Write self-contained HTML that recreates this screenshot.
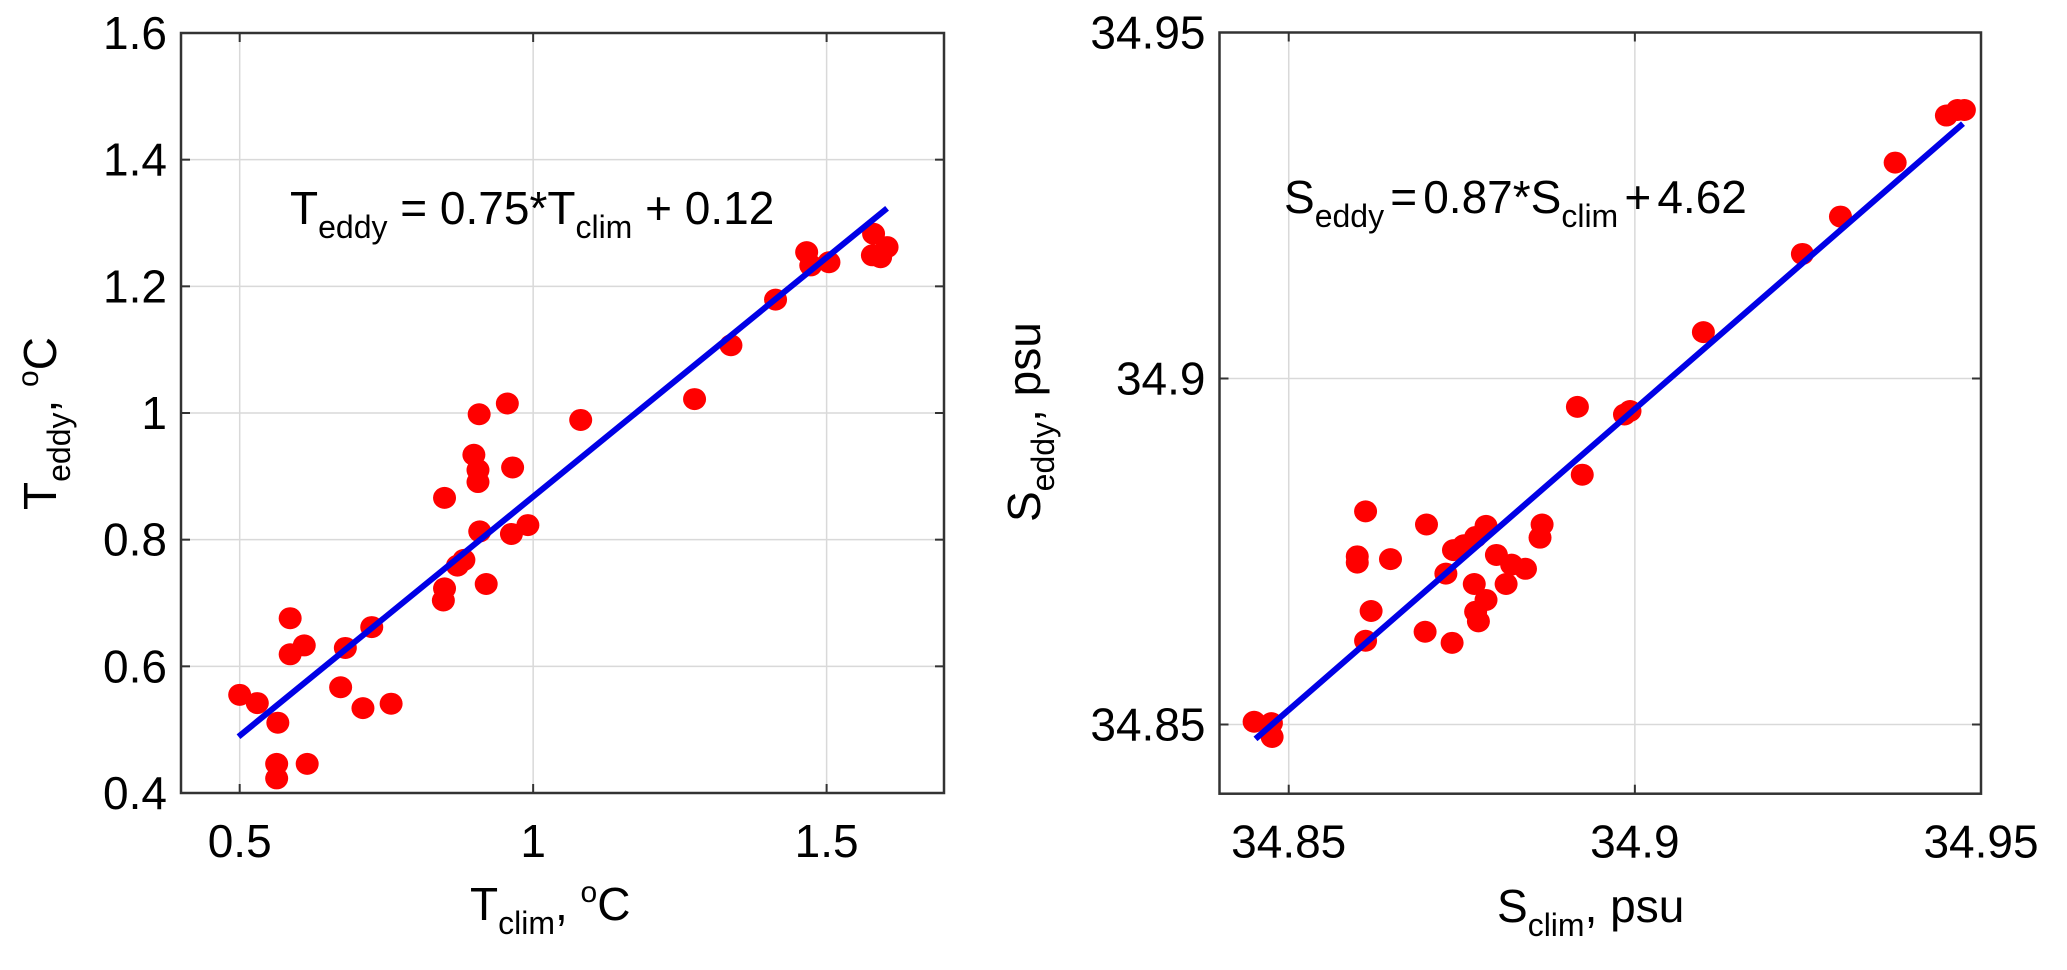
<!DOCTYPE html>
<html><head><meta charset="utf-8"><style>
html,body{margin:0;padding:0;background:#fff;}
svg{display:block;}
text{font-family:"Liberation Sans",Arial,sans-serif;fill:#000;white-space:pre;}
</style></head><body>
<svg id="fig" width="2067" height="970" viewBox="0 0 2067 970" xmlns="http://www.w3.org/2000/svg">
<g id="left"></g>
<g id="right"></g>
</svg>
<script>
// Left panel data
const tClim = [0.50,0.530,0.565,0.563,0.563,0.615,0.586,0.586,0.610,0.672,0.680,0.710,0.725,0.758,0.849,0.847,0.871,0.882,0.920,0.909,0.963,0.991,0.849,0.908,0.956,0.899,0.906,0.906,0.965,1.081,1.275,1.337,1.413,1.466,1.473,1.504,1.580,1.578,1.603,1.592];
const tEddy = [0.555,0.542,0.511,0.446,0.423,0.446,0.676,0.619,0.633,0.567,0.629,0.534,0.662,0.541,0.723,0.704,0.759,0.768,0.730,0.813,0.809,0.823,0.866,0.998,1.015,0.934,0.910,0.891,0.914,0.989,1.022,1.107,1.179,1.254,1.233,1.238,1.283,1.249,1.262,1.246];
const tFitRange = [0.498,1.603];
const tFitSlope = 0.755;
const tFitIntercept = 0.113;
const tXTicks = [0.5,1,1.5];
const tXTickLabels = ["0.5","1","1.5"];
const tYTicks = [0.4,0.6,0.8,1.0,1.2,1.4,1.6];
const tYTickLabels = ["0.4","0.6","0.8","1","1.2","1.4","1.6"];
// Right panel data
const sClim = [34.845,34.8475,34.8476,34.8611,34.8599,34.8599,34.8647,34.8619,34.8611,34.8699,34.8697,34.8736,34.8727,34.8738,34.8753,34.8770,34.8785,34.8768,34.8785,34.8770,34.8774,34.8800,34.8814,34.8822,34.8842,34.8866,34.8863,34.8917,34.8924,34.8985,34.8993,34.9099,34.9242,34.9297,34.9376,34.9450,34.9466,34.9476];
const sEddy = [34.8504,34.8502,34.8482,34.8808,34.8743,34.8734,34.8739,34.8664,34.8621,34.8789,34.8634,34.8618,34.8718,34.8752,34.8759,34.8771,34.8787,34.8703,34.8680,34.8663,34.8649,34.8745,34.8703,34.8731,34.8725,34.8789,34.8770,34.8959,34.8861,34.8948,34.8953,34.9067,34.9180,34.9234,34.9312,34.9380,34.9388,34.9388];
const sFitRange = [34.8452,34.9474];
const sFitSlope = 0.870;
const sFitIntercept = 4.5326;
const sXTicks = [34.85,34.9,34.95];
const sXTickLabels = ["34.85","34.9","34.95"];
const sYTicks = [34.85,34.9,34.95];
const sYTickLabels = ["34.85","34.9","34.95"];

const NS="http://www.w3.org/2000/svg";
function mk(parent,tag,attrs){const e=document.createElementNS(NS,tag);for(const k in attrs)e.setAttribute(k,attrs[k]);parent.appendChild(e);return e;}

function panel(g,cfg){
  const L=cfg.box[0],T=cfg.box[1],R=cfg.box[2],B=cfg.box[3];
  const sx=v=>L+(v-cfg.xr[0])/(cfg.xr[1]-cfg.xr[0])*(R-L);
  const sy=v=>B-(v-cfg.yr[0])/(cfg.yr[1]-cfg.yr[0])*(B-T);
  cfg.xt.forEach((v,i)=>{
    const l=mk(g,'line',{x1:sx(v),x2:sx(v),y1:T,y2:B,stroke:'#d9d9d9','stroke-width':1.5});
    
    
    mk(g,'line',{x1:sx(v),x2:sx(v),y1:B,y2:B-9,stroke:'#333','stroke-width':2});
    mk(g,'line',{x1:sx(v),x2:sx(v),y1:T,y2:T+9,stroke:'#333','stroke-width':2});
    const t=mk(g,'text',{x:sx(v),y:B+64,'text-anchor':'middle','font-size':46});
    t.textContent=cfg.xtl[i];
    
    
  });
  cfg.yt.forEach((v,i)=>{
    const l=mk(g,'line',{x1:L,x2:R,y1:sy(v),y2:sy(v),stroke:'#d9d9d9','stroke-width':1.5});
    
    
    mk(g,'line',{x1:L,x2:L+9,y1:sy(v),y2:sy(v),stroke:'#333','stroke-width':2});
    mk(g,'line',{x1:R,x2:R-9,y1:sy(v),y2:sy(v),stroke:'#333','stroke-width':2});
    const t=mk(g,'text',{x:L-14,y:sy(v)+16,'text-anchor':'end','font-size':46});
    t.textContent=cfg.ytl[i];
    
    
  });
  const box=mk(g,'rect',{x:L,y:T,width:R-L,height:B-T,fill:'none',stroke:'#333','stroke-width':2.5});
  
  
  cfg.xs.forEach((v,i)=>{
    const c=mk(g,'ellipse',{cx:sx(v),cy:sy(cfg.ys[i]),rx:11.5,ry:11,fill:'#f00'});
    
    
  });
  const x0=cfg.fr[0],x1=cfg.fr[1];
  const fl=mk(g,'line',{x1:sx(x0),y1:sy(cfg.fs*x0+cfg.fi),x2:sx(x1),y2:sy(cfg.fs*x1+cfg.fi),stroke:'#0000e6','stroke-width':6});
  
  
}

panel(document.getElementById('left'),{box:[181,33,944,793],xr:[0.4,1.7],yr:[0.4,1.6],xt:tXTicks,xtl:tXTickLabels,yt:tYTicks,ytl:tYTickLabels,xs:tClim,ys:tEddy,fr:tFitRange,fs:tFitSlope,fi:tFitIntercept});
panel(document.getElementById('right'),{box:[1219.5,32.5,1981,793.7],xr:[34.84,34.95],yr:[34.84,34.95],xt:sXTicks,xtl:sXTickLabels,yt:sYTicks,ytl:sYTickLabels,xs:sClim,ys:sEddy,fr:sFitRange,fs:sFitSlope,fi:sFitIntercept});
</script>
<svg width="2067" height="970" style="position:absolute;left:0;top:0" xmlns="http://www.w3.org/2000/svg">
<text x="290" y="224" font-size="46">T<tspan font-size="32" dy="14">eddy</tspan><tspan dy="-14"> = 0.75*T</tspan><tspan font-size="32" dy="14">clim</tspan><tspan dy="-14"> + 0.12</tspan></text>
<text x="1284" y="213" font-size="46">S<tspan font-size="32" dy="14">eddy</tspan><tspan dy="-14"><tspan font-size="22"> </tspan>=<tspan font-size="22"> </tspan>0.87*S</tspan><tspan font-size="32" dy="14">clim</tspan><tspan dy="-14"><tspan font-size="22"> </tspan>+<tspan font-size="22"> </tspan>4.62</tspan></text>
<text x="470" y="920" font-size="46">T<tspan font-size="32" dy="14">clim</tspan><tspan dy="-14">, </tspan><tspan font-size="30" dy="-18">o</tspan><tspan dy="18">C</tspan></text>
<text x="1497" y="922" font-size="46">S<tspan font-size="32" dy="14">clim</tspan><tspan dy="-14">, psu</tspan></text>
<text transform="translate(56,510) rotate(-90)" font-size="46">T<tspan font-size="32" dy="14">eddy</tspan><tspan dy="-14">, </tspan><tspan font-size="30" dy="-18">o</tspan><tspan dy="18">C</tspan></text>
<text transform="translate(1040,522) rotate(-90)" font-size="46">S<tspan font-size="32" dy="14">eddy</tspan><tspan dy="-14">, psu</tspan></text>
</svg>
</body></html>
